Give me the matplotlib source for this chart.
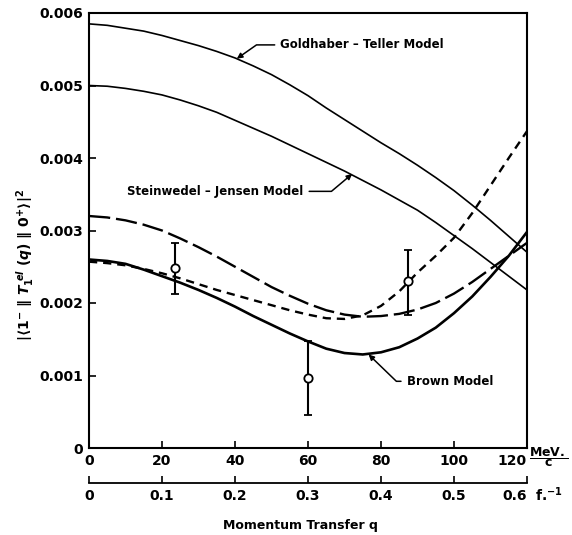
import matplotlib.pyplot as plt

# values (q in MeV/c, y in |<1-||T1el||0+>|^2)
q = [0, 5, 10, 15, 20, 25, 30, 35, 40, 45, 50, 55, 60,
     65, 70, 75, 80, 85, 90, 95, 100, 105, 110, 115, 120]
goldhaber_teller = [0.00585, 0.00583, 0.00579, 0.00575, 0.00569, 0.00562, 0.00555,
                    0.00547, 0.00538, 0.00527, 0.00515, 0.00501, 0.00486, 0.00469,
                    0.00453, 0.00437, 0.00421, 0.00406, 0.00390, 0.00373, 0.00355,
                    0.00335, 0.00314, 0.00292, 0.00270]
steinwedel_jensen = [0.00500, 0.00499, 0.00496, 0.00492, 0.00487, 0.00480, 0.00472,
                     0.00463, 0.00452, 0.00441, 0.00430, 0.00418, 0.00406, 0.00394,
                     0.00382, 0.00369, 0.00356, 0.00342, 0.00328, 0.00311, 0.00293,
                     0.00275, 0.00256, 0.00237, 0.00218]
dash_dot = [0.00320, 0.00318, 0.00314, 0.00308, 0.00300, 0.00289, 0.00277, 0.00264,
            0.00250, 0.00236, 0.00222, 0.00210, 0.00199, 0.00190, 0.00184, 0.00181,
            0.00182, 0.00185, 0.00191, 0.00200, 0.00213, 0.00229, 0.00247, 0.00265,
            0.00283]
dashed = [0.00257, 0.00255, 0.00252, 0.00247, 0.00241, 0.00234, 0.00226, 0.00218,
          0.00211, 0.00204, 0.00197, 0.00190, 0.00184, 0.00179, 0.00178, 0.00183,
          0.00196, 0.00216, 0.00242, 0.00265, 0.00290, 0.00324, 0.00362, 0.00400,
          0.00437]
brown = [0.00260, 0.00258, 0.00254, 0.00246, 0.00237, 0.00228, 0.00218, 0.00207,
         0.00195, 0.00182, 0.00170, 0.00158, 0.00147, 0.00137, 0.00131, 0.00129,
         0.00132, 0.00139, 0.00151, 0.00166, 0.00186, 0.00209, 0.00236, 0.00265,
         0.00298]

# measured points
q_exp = [23.5, 60, 87.3]
y_exp = [0.00248, 0.00097, 0.00230]
err_lo = [0.00036, 0.00051, 0.00047]
err_hi = [0.00035, 0.00050, 0.00043]

x_ticks = [0, 20, 40, 60, 80, 100, 120]
y_ticks = [0, 0.001, 0.002, 0.003, 0.004, 0.005, 0.006]
y_ticklabels = ['0', '0.001', '0.002', '0.003', '0.004', '0.005', '0.006']
f_ticks = [0, 0.1, 0.2, 0.3, 0.4, 0.5, 0.6]
f_ticklabels = ['0', '0.1', '0.2', '0.3', '0.4', '0.5', '0.6']

plt.rcParams['font.family'] = 'DejaVu Sans'
plt.rcParams['font.weight'] = 'bold'

fig = plt.figure(figsize=(5.72, 5.35), dpi=100)
L, W = 89 / 572, 438 / 572
ax = fig.add_axes([L, 1 - 448 / 535, W, 435 / 535])

ax.plot(q, goldhaber_teller, color='black', lw=1.2)
ax.plot(q, steinwedel_jensen, color='black', lw=1.2)
ax.plot(q, dash_dot, color='black', lw=1.7, linestyle=(0, (9, 2.5)))
ax.plot(q, dashed, color='black', lw=1.7, linestyle=(0, (3.5, 2.5)))
ax.plot(q, brown, color='black', lw=1.9)

ax.errorbar(q_exp, y_exp, yerr=[err_lo, err_hi], fmt='o', mfc='white', mec='black',
            ms=6, mew=1.3, ecolor='black', elinewidth=1.5, capsize=3, capthick=1.3,
            zorder=5)

ax.set_xlim(0, 120)
ax.set_ylim(0, 0.006)
ax.set_xticks(x_ticks)
ax.set_xticklabels([str(v) for v in x_ticks])
ax.set_yticks(y_ticks)
ax.set_yticklabels(y_ticklabels)
ax.tick_params(direction='in', length=5, width=1.2, labelsize=10, pad=4)
ax.get_xticklabels()[-1].set_ha('right')
for s in ax.spines.values():
    s.set_linewidth(1.5)

lbl = dict(fontsize=8.5, fontweight='bold')
ax.annotate('Goldhaber – Teller Model', xy=(40.5, 0.00537), xytext=(52.4, 0.00556),
            va='center', ha='left', **lbl,
            arrowprops=dict(arrowstyle='-|>', color='black', lw=1.1, shrinkA=2, shrinkB=0,
                            mutation_scale=8,
                            connectionstyle='angle,angleA=0,angleB=35,rad=0'))
ax.annotate('Steinwedel – Jensen Model', xy=(72.1, 0.00378), xytext=(58.8, 0.00354),
            va='center', ha='right', **lbl,
            arrowprops=dict(arrowstyle='-|>', color='black', lw=1.1, shrinkA=2, shrinkB=0,
                            mutation_scale=8,
                            connectionstyle='angle,angleA=0,angleB=40,rad=0'))
ax.annotate('Brown Model', xy=(76.6, 0.00129), xytext=(87.0, 0.00092),
            va='center', ha='left', **lbl,
            arrowprops=dict(arrowstyle='-|>', color='black', lw=1.1, shrinkA=2, shrinkB=0,
                            mutation_scale=8,
                            connectionstyle='angle,angleA=0,angleB=-44,rad=0'))

# second scale in inverse fermis
ax2 = fig.add_axes([L, 1 - 483 / 535, W, 1e-4])
ax2.set_xlim(0, 0.6)
ax2.set_ylim(0, 1)
ax2.set_yticks([])
ax2.set_xticks(f_ticks)
ax2.set_xticklabels(f_ticklabels)
for side in ['left', 'right', 'top']:
    ax2.spines[side].set_visible(False)
ax2.spines['bottom'].set_linewidth(1.3)
ax2.patch.set_visible(False)
ax2.tick_params(direction='in', length=5, width=1.2, labelsize=10, pad=4)
ax2.get_xticklabels()[-1].set_ha('right')

fig.text(549 / 572, 1 - 457 / 535, r'$\mathbf{\dfrac{MeV.}{c}}$', fontsize=9,
         ha='center', va='center')
fig.text(549 / 572, 1 - 495 / 535, r'f.$^{\mathbf{-1}}$', fontsize=10,
         ha='center', va='center')
fig.text(300 / 572, 1 - 525 / 535, 'Momentum Transfer q', fontsize=9,
         fontweight='bold', ha='center', va='center')
fig.text(25 / 572, 1 - 265 / 535,
         r'$|\langle 1^{-}\ \|\ T_1^{\ el}\ (q)\ \|\ 0^{+}\rangle|^2$',
         fontsize=10, rotation=90, ha='center', va='center')

fig.savefig('out.png', dpi=100)
